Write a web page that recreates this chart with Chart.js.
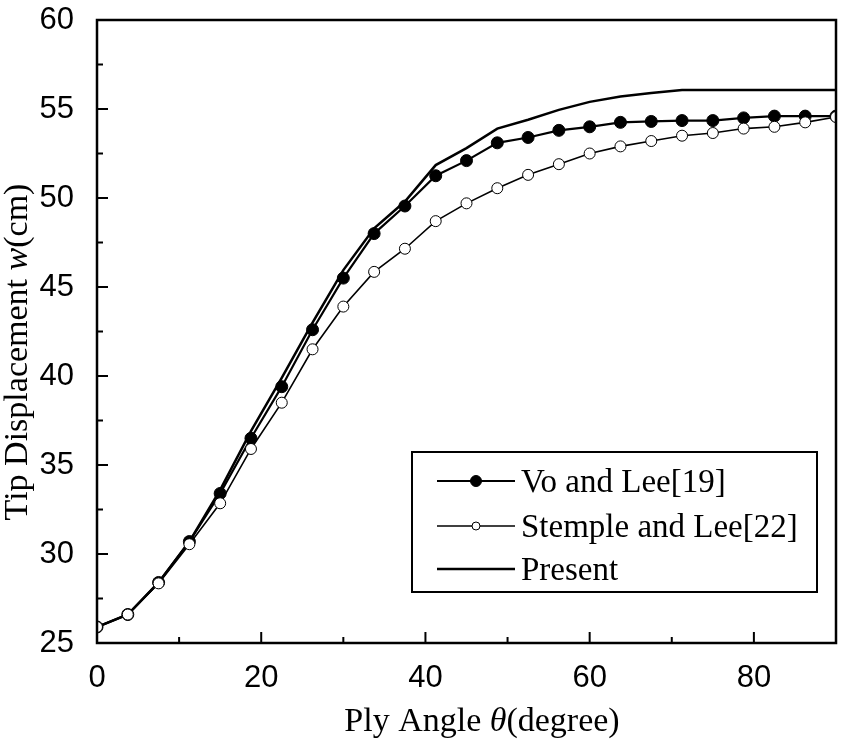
<!DOCTYPE html>
<html>
<head>
<meta charset="utf-8">
<title>Tip displacement vs ply angle</title>
<script src="https://cdn.jsdelivr.net/npm/chart.js@4.4.0/dist/chart.umd.min.js"></script>
<style>
    html, body { margin: 0; padding: 0; background: #fff; }
    #chart-wrap { width: 843px; height: 741px; position: relative; }
</style>
</head>
<body>
<div id="chart-wrap"><canvas id="tip-displacement"></canvas></div>
<script>
    "use strict";

    /** Data */
    var plyAngles = [0, 3.75, 7.5, 11.25, 15, 18.75, 22.5, 26.25, 30, 33.75, 37.5, 41.25, 45,
                     48.75, 52.5, 56.25, 60, 63.75, 67.5, 71.25, 75, 78.75, 82.5, 86.25, 90];
    var voAndLee = [25.9, 26.6, 28.4, 30.7, 33.4, 36.5, 39.4, 42.6, 45.5, 48.0, 49.55, 51.25, 52.1,
                    53.1, 53.4, 53.8, 54.0, 54.25, 54.3, 54.35, 54.35, 54.5, 54.6, 54.6, 54.6];
    var stempleAndLee = [25.9, 26.6, 28.35, 30.55, 32.85, 35.9, 38.5, 41.5, 43.9, 45.85, 47.15, 48.7, 49.7,
                         50.55, 51.3, 51.9, 52.5, 52.9, 53.2, 53.5, 53.65, 53.9, 54.0, 54.25, 54.55];
    var present = [25.9, 26.6, 28.4, 30.7, 33.6, 36.9, 39.9, 43.0, 45.95, 48.3, 49.8, 51.85, 52.8,
                   53.9, 54.4, 54.95, 55.4, 55.7, 55.9, 56.07, 56.07, 56.07, 56.07, 56.07, 56.07];

    var seriesLabels = ['Vo and Lee[19]', 'Stemple and Lee[22]', 'Present'];

    /** Tick positions */
    var xMajorTicks = [0, 20, 40, 60, 80];
    var xMinorTicks = [10, 30, 50, 70];
    var yMajorTicks = [25, 30, 35, 40, 45, 50, 55, 60];
    var yMinorTicks = [27.5, 32.5, 37.5, 42.5, 47.5, 52.5, 57.5];

    var SERIF = "'Liberation Serif', 'Times New Roman', serif";
    var SANS = "'Liberation Sans', Arial, sans-serif";

    function toPoints(values) {
        return values.map(function (v, i) {
            return { x: plyAngles[i], y: v };
        });
    }

    /** Inward ticks and the closed frame */
    var frameAndTicks = {
        id: 'frameAndTicks',
        afterDatasetsDraw: function (chart) {
            var ctx = chart.ctx;
            var area = chart.chartArea;
            var xs = chart.scales.x;
            var ys = chart.scales.y;

            ctx.save();
            ctx.strokeStyle = '#000';
            ctx.lineWidth = 2;
            ctx.beginPath();
            xMajorTicks.forEach(function (v) {
                var px = xs.getPixelForValue(v);
                ctx.moveTo(px, area.bottom);
                ctx.lineTo(px, area.bottom - 11);
            });
            xMinorTicks.forEach(function (v) {
                var px = xs.getPixelForValue(v);
                ctx.moveTo(px, area.bottom);
                ctx.lineTo(px, area.bottom - 6);
            });
            yMajorTicks.forEach(function (v) {
                var py = ys.getPixelForValue(v);
                ctx.moveTo(area.left, py);
                ctx.lineTo(area.left + 11, py);
            });
            yMinorTicks.forEach(function (v) {
                var py = ys.getPixelForValue(v);
                ctx.moveTo(area.left, py);
                ctx.lineTo(area.left + 6, py);
            });
            ctx.stroke();

            ctx.lineWidth = 2.5;
            ctx.strokeRect(area.left, area.top, area.right - area.left, area.bottom - area.top);
            ctx.restore();
        }
    };

    /** Axis titles with italic symbols */
    function drawMixed(ctx, parts, startX, baseY) {
        var x = startX;
        parts.forEach(function (p) {
            ctx.font = (p.italic ? 'italic ' : '') + '34px ' + SERIF;
            ctx.fillText(p.text, x, baseY);
            x += ctx.measureText(p.text).width;
        });
    }

    function mixedWidth(ctx, parts) {
        var w = 0;
        parts.forEach(function (p) {
            ctx.font = (p.italic ? 'italic ' : '') + '34px ' + SERIF;
            w += ctx.measureText(p.text).width;
        });
        return w;
    }

    var axisTitles = {
        id: 'axisTitles',
        afterDraw: function (chart) {
            var ctx = chart.ctx;
            var xTitle = [{ text: 'Ply Angle ' }, { text: '\u03b8', italic: true }, { text: '(degree)' }];
            var yTitle = [{ text: 'Tip Displacement ' }, { text: 'w', italic: true }, { text: '(cm)' }];

            ctx.save();
            ctx.fillStyle = '#000';
            ctx.textAlign = 'left';
            ctx.textBaseline = 'alphabetic';

            var wx = mixedWidth(ctx, xTitle);
            drawMixed(ctx, xTitle, 482 - wx / 2, 731);

            ctx.translate(27, 352);
            ctx.rotate(-Math.PI / 2);
            var wy = mixedWidth(ctx, yTitle);
            drawMixed(ctx, yTitle, -wy / 2, 0);
            ctx.restore();
        }
    };

    /** Boxed legend inside the plot */
    var legendBox = {
        id: 'legendBox',
        afterDraw: function (chart) {
            var ctx = chart.ctx;
            var rowBase = [492, 537, 580];
            var legendRadius = [5.5, 4, 0];

            ctx.save();
            ctx.fillStyle = '#fff';
            ctx.fillRect(412, 452, 405, 140);
            ctx.strokeStyle = '#000';
            ctx.lineWidth = 2;
            ctx.strokeRect(412, 452, 405, 140);

            chart.data.datasets.forEach(function (ds, i) {
                var ly = rowBase[i] - 11;
                ctx.lineWidth = ds.borderWidth;
                ctx.beginPath();
                ctx.moveTo(437, ly);
                ctx.lineTo(515, ly);
                ctx.stroke();

                if (legendRadius[i] > 0) {
                    ctx.beginPath();
                    ctx.arc(476, ly, legendRadius[i], 0, Math.PI * 2);
                    ctx.fillStyle = ds.pointBackgroundColor;
                    ctx.fill();
                    ctx.lineWidth = 1;
                    ctx.stroke();
                }

                ctx.fillStyle = '#000';
                ctx.font = '33px ' + SERIF;
                ctx.textBaseline = 'alphabetic';
                ctx.fillText(ds.label, 521, rowBase[i]);
            });
            ctx.restore();
        }
    };

    var ctx = document.getElementById('tip-displacement').getContext('2d');
    var tipChart = new Chart(ctx, {
        type: 'line',
        data: {
            datasets: [{
                label: seriesLabels[0],
                data: toPoints(voAndLee),
                borderColor: '#000',
                borderWidth: 2.2,
                pointRadius: 6,
                pointBackgroundColor: '#000',
                pointBorderColor: '#000',
                pointBorderWidth: 1,
                order: 1
            }, {
                label: seriesLabels[1],
                data: toPoints(stempleAndLee),
                borderColor: '#000',
                borderWidth: 1.6,
                pointRadius: 5.5,
                pointBackgroundColor: '#fff',
                pointBorderColor: '#000',
                pointBorderWidth: 1,
                order: 0
            }, {
                label: seriesLabels[2],
                data: toPoints(present),
                borderColor: '#000',
                borderWidth: 2.5,
                pointRadius: 0,
                pointBackgroundColor: '#000',
                order: 2
            }]
        },
        options: {
            responsive: true,
            maintainAspectRatio: false,
            animation: false,
            clip: 0,
            elements: { line: { tension: 0, fill: false } },
            layout: { padding: { top: 20, right: 5, left: 0, bottom: 0 } },
            plugins: {
                legend: { display: false },
                tooltip: { enabled: false }
            },
            scales: {
                x: {
                    type: 'linear',
                    min: 0,
                    max: 90,
                    grid: { display: false },
                    border: { display: false },
                    afterBuildTicks: function (scale) {
                        scale.ticks = xMajorTicks.map(function (v) { return { value: v }; });
                    },
                    afterFit: function (scale) {
                        scale.height = 98;
                        scale.paddingLeft = 0;
                        scale.paddingRight = 0;
                    },
                    ticks: {
                        color: '#000',
                        padding: 9,
                        maxRotation: 0,
                        font: { family: SANS, size: 31 }
                    }
                },
                y: {
                    min: 25,
                    max: 60,
                    grid: { display: false },
                    border: { display: false },
                    afterBuildTicks: function (scale) {
                        scale.ticks = yMajorTicks.map(function (v) { return { value: v }; });
                    },
                    afterFit: function (scale) {
                        scale.width = 97;
                        scale.paddingTop = 0;
                        scale.paddingBottom = 0;
                    },
                    ticks: {
                        color: '#000',
                        padding: 15,
                        font: { family: SANS, size: 31 }
                    }
                }
            }
        },
        plugins: [frameAndTicks, axisTitles, legendBox]
    });
</script>
</body>
</html>
